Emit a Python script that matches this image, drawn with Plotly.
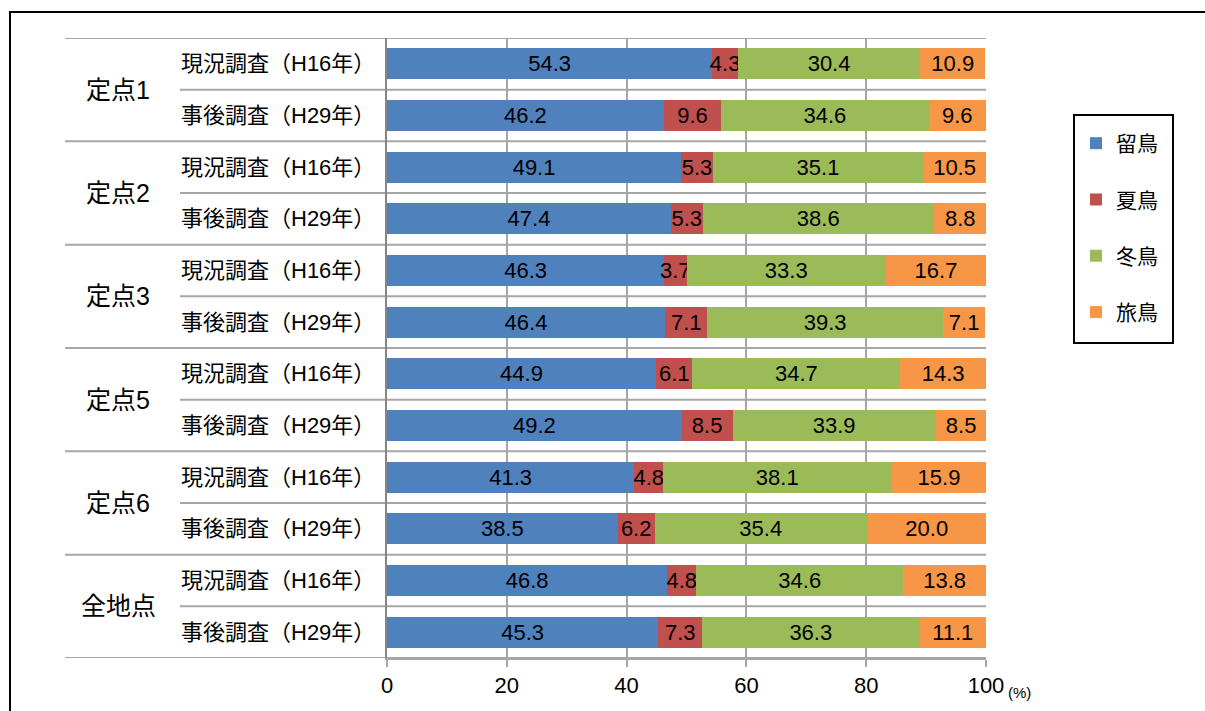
import plotly.graph_objects as go

# --- data -------------------------------------------------------------
sites = ["定点1", "定点2", "定点3", "定点5", "定点6", "全地点"]
surveys = ["現況調査（H16年）", "事後調査（H29年）"]
series_names = ["留鳥", "夏鳥", "冬鳥", "旅鳥"]
series_colors = ["#4F81BD", "#C0504D", "#9BBB59", "#F79646"]

# one value per row, rows ordered site by site (H16 then H29)
resident = [54.3, 46.2, 49.1, 47.4, 46.3, 46.4, 44.9, 49.2, 41.3, 38.5, 46.8, 45.3]
summer = [4.3, 9.6, 5.3, 5.3, 3.7, 7.1, 6.1, 8.5, 4.8, 6.2, 4.8, 7.3]
winter = [30.4, 34.6, 35.1, 38.6, 33.3, 39.3, 34.7, 33.9, 38.1, 35.4, 34.6, 36.3]
passage = [10.9, 9.6, 10.5, 8.8, 16.7, 7.1, 14.3, 8.5, 15.9, 20.0, 13.8, 11.1]

x_ticks = [0, 20, 40, 60, 80, 100]

# --- layout geometry (pixels) -------------------------------------------
W, H = 1205, 711
L, R, T, B = 387, 986, 38, 658
n_rows = len(sites) * len(surveys)


def px_x(p):
    return (p - L) / (R - L)


def px_y(p):
    return (B - p) / (B - T)


FONT = "Liberation Sans, Arial, Noto Sans CJK JP, sans-serif"
GRID = "#a6a6a6"
AXIS = "#868686"

rows = list(range(n_rows))
fig = go.Figure()
for name, color, vals in zip(series_names, series_colors,
                             [resident, summer, winter, passage]):
    fig.add_trace(go.Bar(
        y=rows, x=vals, name=name, orientation="h",
        marker=dict(color=color, line=dict(width=0)),
        width=0.6,
        texttemplate="%{x:.1f}", textposition="inside",
        insidetextanchor="middle", textangle=0,
        textfont=dict(size=22, color="black", family=FONT),
        legendgroup=name,
    ))

shapes = []
# row boundary lines: across plot, and extended left into the label area
for k in range(n_rows + 1):
    y = k - 0.5
    left = 65 if k % 2 == 0 else 180
    shapes.append(dict(type="line", xref="paper", yref="y",
                       x0=px_x(left), x1=1, y0=y, y1=y,
                       line=dict(color=GRID, width=2), layer="below"))
# outer frame
shapes.append(dict(type="rect", xref="paper", yref="paper",
                   x0=px_x(10), x1=px_x(1215), y0=px_y(12), y1=px_y(730),
                   line=dict(color="black", width=2), fillcolor="rgba(0,0,0,0)"))
# legend frame
shapes.append(dict(type="rect", xref="paper", yref="paper",
                   x0=px_x(1074), x1=px_x(1173), y0=px_y(115), y1=px_y(343),
                   line=dict(color="black", width=2), fillcolor="rgba(0,0,0,0)"))

annotations = []
for i, site in enumerate(sites):
    annotations.append(dict(xref="paper", yref="y", x=px_x(118), y=2 * i + 0.5,
                            text=site, showarrow=False, xanchor="center",
                            font=dict(size=25, color="black", family=FONT)))
    for j, sv in enumerate(surveys):
        annotations.append(dict(xref="paper", yref="y", x=px_x(179), y=2 * i + j,
                                text=sv, showarrow=False, xanchor="left",
                                font=dict(size=22, color="black", family=FONT)))
annotations.append(dict(xref="paper", yref="paper", x=px_x(1006), y=px_y(703),
                        text="(%)", showarrow=False, xanchor="left",
                        font=dict(size=15, color="black", family=FONT)))

fig.update_layout(
    width=W, height=H, autosize=False,
    margin=dict(l=L, r=W - R, t=T, b=H - B),
    paper_bgcolor="white", plot_bgcolor="white",
    barmode="stack", bargap=0.4,
    uniformtext=dict(minsize=22, mode="show"),
    shapes=shapes, annotations=annotations,
    font=dict(family=FONT, color="black"),
    xaxis=dict(range=[0, 100], tickvals=x_ticks, ticktext=[str(v) for v in x_ticks],
               showgrid=True, gridcolor=GRID, gridwidth=2,
               showline=True, linecolor=GRID, linewidth=2,
               ticks="outside", ticklen=7, tickwidth=2, tickcolor=GRID,
               tickfont=dict(size=22, color="black", family=FONT),
               zeroline=False, fixedrange=True),
    yaxis=dict(range=[n_rows - 0.5, -0.5], showticklabels=False, showgrid=False,
               zeroline=False, showline=True, linecolor=AXIS, linewidth=2,
               fixedrange=True),
    showlegend=True,
    legend=dict(x=px_x(1076), y=px_y(123), xanchor="left", yanchor="top",
                borderwidth=0, bgcolor="rgba(0,0,0,0)",
                traceorder="grouped", tracegroupgap=26,
                font=dict(size=21, color="black", family=FONT)),
)

fig.write_html("out.html")
